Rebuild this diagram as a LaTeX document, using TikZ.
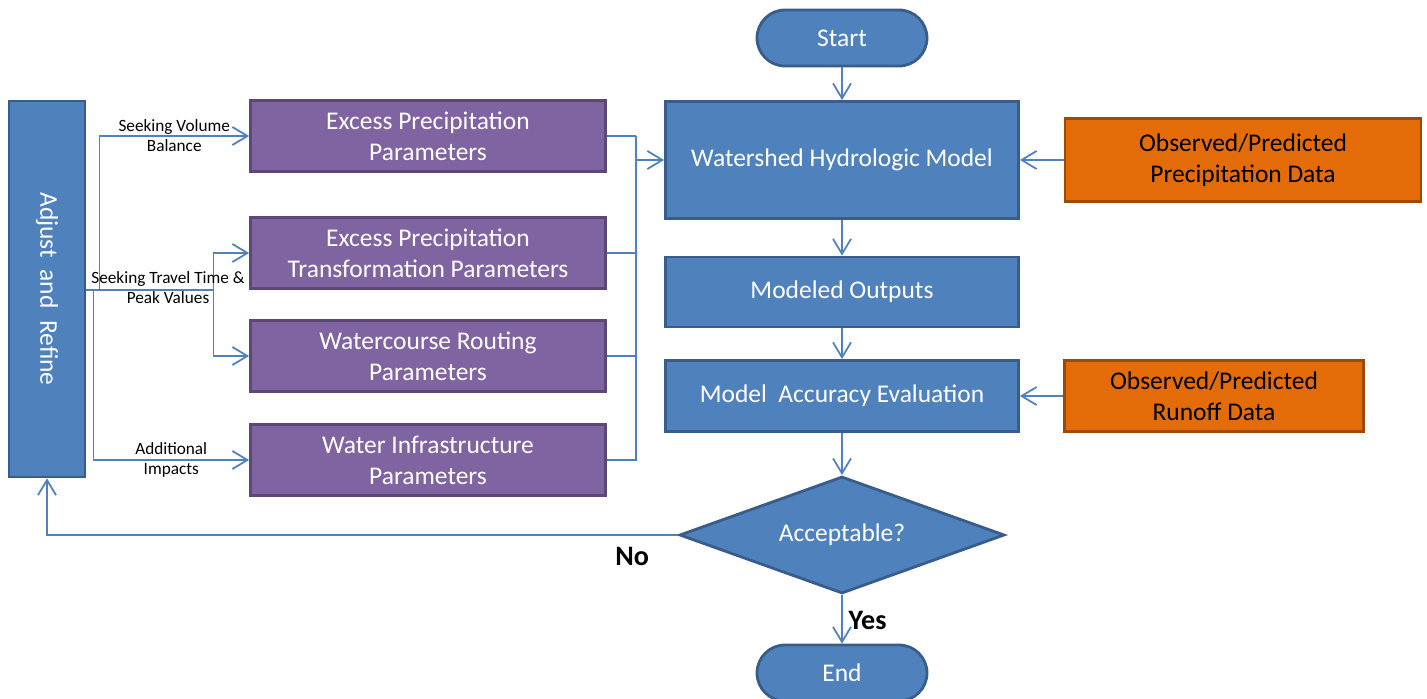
\documentclass[tikz,border=0pt]{standalone}
\usepackage{fontspec}
\setmainfont{Carlito}
\usetikzlibrary{calc}
\usetikzlibrary{arrows.meta, shapes.geometric}

\definecolor{boxblue}{HTML}{4F81BD}
\definecolor{edgeblue}{HTML}{385D8A}
\definecolor{boxpurple}{HTML}{8064A2}
\definecolor{edgepurple}{HTML}{5C4776}
\definecolor{boxorange}{HTML}{E36C09}
\definecolor{edgeorange}{HTML}{9C4A06}

\begin{document}
\begin{tikzpicture}[
		>={Straight Barb[length=3mm, width=3.6mm]},
		flow/.style={draw=boxblue, line width=1pt},
		base/.style={line width=1.6pt, inner sep=0pt, align=center,
			font=\fontsize{14.5}{17.6}\selectfont},
		bluebox/.style={base, rectangle, fill=boxblue, draw=edgeblue, text=white,
			minimum width=7.06cm},
		purplebox/.style={base, rectangle, fill=boxpurple, draw=edgepurple, text=white,
			minimum width=7.1cm, minimum height=1.42cm},
		orangebox/.style={base, rectangle, fill=boxorange, draw=edgeorange, text=black},
		terminal/.style={base, rectangle, rounded corners=0.56cm, fill=boxblue,
			draw=edgeblue, text=white, minimum width=3.4cm, minimum height=1.12cm},
		decision/.style={base, diamond, aspect=2.78, fill=boxblue, draw=edgeblue, text=white,
			minimum width=6.5cm, minimum height=2.34cm},
		tag/.style={font=\fontsize{9.8}{11.3}\selectfont, align=center, inner sep=0pt},
		answer/.style={font=\fontsize{16}{19}\selectfont\bfseries},
	]
	\useasboundingbox (0,0) rectangle (28.54,13.96);

	% main column
	\node[terminal] (start) at (16.84,13.2) {Start};
	\node[bluebox, minimum height=2.34cm] (model) at (16.84,10.76) {Watershed Hydrologic Model};
	\node[bluebox, minimum height=1.4cm] (outputs) at (16.84,8.12) {Modeled Outputs};
	\node[bluebox, minimum height=1.42cm] (eval) at (16.84,6.04) {Model~~Accuracy Evaluation};
	\node[decision] (ok) at (16.84,3.26) {Acceptable?};
	\node[terminal] (end) at (16.84,0.5) {End};

	% data inputs
	\node[orangebox, minimum width=7.12cm, minimum height=1.66cm] (precip) at (24.86,10.76)
		{Observed/Predicted\\Precipitation Data};
	\node[orangebox, minimum width=5.98cm, minimum height=1.42cm] (runoff) at (24.28,6.04)
		{Observed/Predicted\\Runoff Data};

	% parameters
	\node[bluebox, minimum width=7.52cm, minimum height=1.52cm, rotate=-90] (adjust) at (0.94,8.18)
		{Adjust~~and~~Refine};
	\node[purplebox] (volume) at (8.56,11.24) {Excess Precipitation\\Parameters};
	\node[purplebox] (transform) at (8.56,8.9) {Excess Precipitation\\Transformation Parameters};
	\node[purplebox] (routing) at (8.56,6.84) {Watercourse Routing\\Parameters};
	\node[purplebox] (infra) at (8.56,4.76) {Water Infrastructure\\Parameters};

	\coordinate (split) at ($(adjust.north)+(0,-0.02)$);
	\coordinate (fork) at ($(split)+(2.54,0)$);
	\coordinate (merge) at ($(volume.east)+(0.58,0)$);

	% flow down the column
	\draw[flow,->] (start) -- (model);
	\draw[flow,->] (model) -- (outputs);
	\draw[flow,->] (outputs) -- (eval);
	\draw[flow,->] (eval) -- (ok);
	\draw[flow,->] (ok) -- node[answer, right, pos=0.52] {Yes} (end);
	\draw[flow,->] (precip) -- (model);
	\draw[flow,->] (runoff) -- (eval);
	\draw[flow,->] (ok.west) -- (adjust.east |- ok.west) -- (adjust.east);
	\node[answer] (no) at ($(ok.west)+(-0.92,-0.42)$) {No};

	% branches to the parameter sets
	\draw[flow] (split) -- (fork);
	\draw[flow,->] ($(split)+(0.26,0)$) |- node[tag, pos=0.75] {Seeking Volume\\Balance} (volume.west);
	\draw[flow,->] ($(split)+(0.14,0)$) |- node[tag, pos=0.75] {Additional\\Impacts} (infra.west);
	\draw[flow,->] (fork) |- (transform.west);
	\draw[flow,->] (fork) |- (routing.west);
	\node[tag] (travel) at (3.36,8.2) {Seeking Travel Time \&\\Peak Values};

	% gather into the model
	\draw[flow] (volume.east) -- (merge);
	\draw[flow] (transform.east) -- (merge |- transform.east);
	\draw[flow] (routing.east) -- (merge |- routing.east);
	\draw[flow] (infra.east) -- (merge |- infra.east) -- (merge);
	\draw[flow,->] (merge |- model.west) -- (model.west);
\end{tikzpicture}
\end{document}
